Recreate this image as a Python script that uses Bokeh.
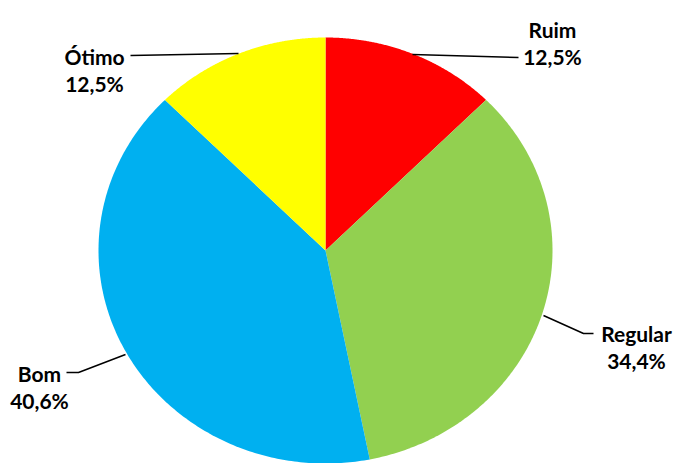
import numpy as np
from bokeh.plotting import figure
from bokeh.models import Range1d
from bokeh.core.properties import value
from bokeh.embed import file_html
from bokeh.resources import INLINE

# ---- data ----
categories = ["Ruim", "Regular", "Bom", "Ótimo"]
counts = [4, 11, 13, 4]
colors = ["#FF0000", "#92D050", "#00B0F0", "#FFFF00"]

# ---- layout (pixel positions, y measured from top) ----
W, H = 675, 463
cx, cy = 325, 250
rx, ry = 227, 213
label_x = [552, 636, 39, 94]
label_y1 = [29, 333, 373, 56]      # baseline of category name
line_gap = 27
leaders = [
    [(412, 54), (518, 57)],
    [(543, 315), (583, 333), (593, 333)],
    [(125, 354), (78, 372), (66, 372)],
    [(238, 53), (130, 55)],
]

p = figure(width=W, height=H, x_range=Range1d(0, W), y_range=Range1d(0, H),
           output_backend="svg", toolbar_location=None, min_border=0)
p.axis.visible = False
p.grid.visible = False
p.outline_line_color = None
p.background_fill_color = "white"
p.border_fill_color = "white"

total = float(sum(counts))
fracs = np.array(counts) / total
cum = np.concatenate([[0], np.cumsum(fracs)])

xs, ys = [], []
for i in range(len(counts)):
    t = np.linspace(cum[i], cum[i + 1], 200)
    th = np.pi / 2 - 2 * np.pi * t
    px = np.concatenate([[cx], cx + rx * np.cos(th)])
    py = np.concatenate([[cy], cy - ry * np.sin(th)])
    xs.append(list(px))
    ys.append(list(H - py))
p.patches(xs, ys, fill_color=colors, line_color=None)

p.multi_line([[a[0] for a in l] for l in leaders],
             [[H - a[1] for a in l] for l in leaders],
             line_color="black", line_width=1.5)

pct = [("%.1f" % (f * 100)).replace(".", ",") + "%" for f in fracs]
font = value("Lato")
p.text(x=label_x, y=[H - y for y in label_y1], text=categories,
       text_font=font, text_font_style="bold", text_font_size="21px",
       text_align="center", text_baseline="alphabetic", text_color="black")
p.text(x=label_x, y=[H - y - line_gap for y in label_y1], text=pct,
       text_font=font, text_font_style="bold", text_font_size="21px",
       text_align="center", text_baseline="alphabetic", text_color="black")

open("out.html", "w").write(file_html(p, INLINE))
